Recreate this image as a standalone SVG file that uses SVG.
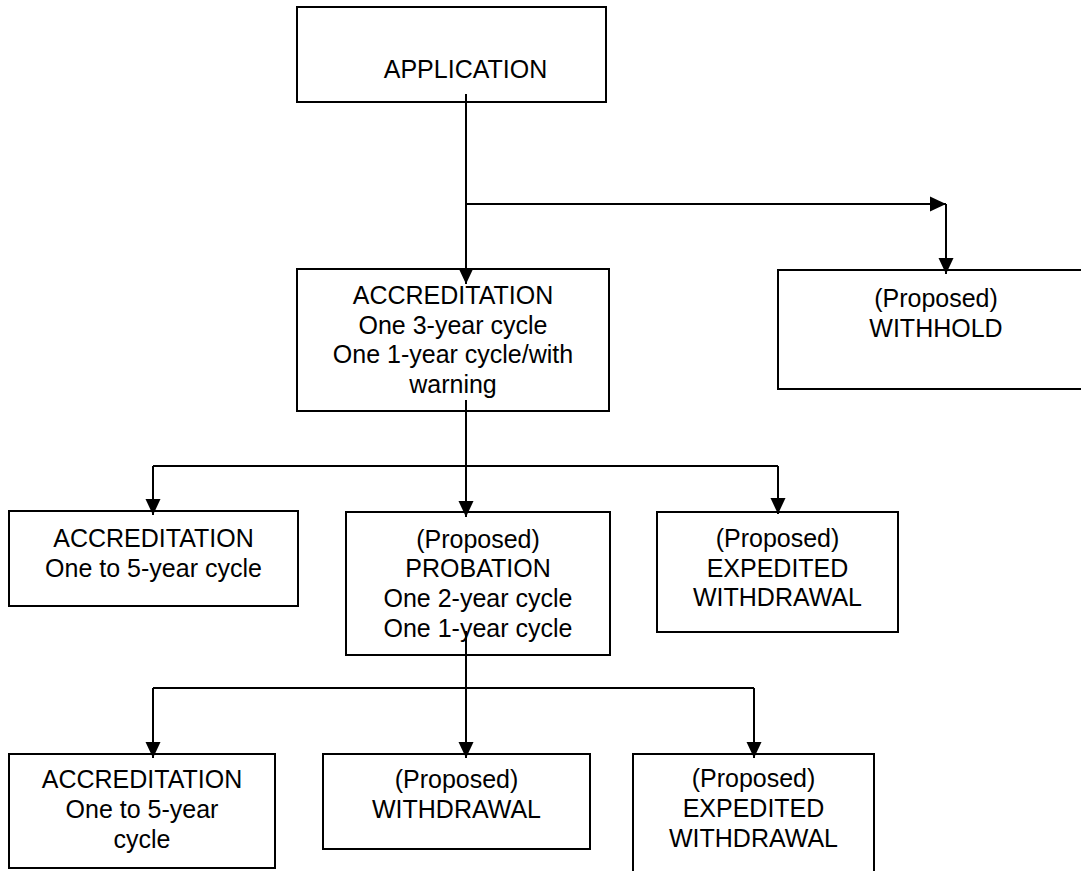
<svg xmlns="http://www.w3.org/2000/svg" width="1081" height="871" viewBox="0 0 1081 871">
<style>
.box{fill:#fff;stroke:#000;stroke-width:2}
.t{font-family:"Liberation Sans",Arial,sans-serif;font-size:25px;fill:#000;text-anchor:middle}
.c{fill:none;stroke:#000;stroke-width:2}
.a{marker-end:url(#arr)}
</style>
<defs>
<marker id="arr" markerUnits="userSpaceOnUse" markerWidth="16" markerHeight="16" refX="16" refY="8" orient="auto">
<path d="M0,0.5 L16,8 L0,15.5 z" fill="#000"/>
</marker>
</defs>
<rect width="1081" height="871" fill="#fff"/>
<g id="application">
<rect class="box" x="297" y="7" width="309" height="95"/>
<text class="t" x="465.5" y="78">APPLICATION</text>
</g>
<g id="accreditation-main">
<rect class="box" x="297" y="269" width="312" height="142"/>
<text class="t" x="453" y="304">ACCREDITATION</text>
<text class="t" x="453" y="334">One 3-year cycle</text>
<text class="t" x="453" y="363">One 1-year cycle/with</text>
<text class="t" x="453" y="393">warning</text>
</g>
<g id="withhold">
<rect class="box" x="778" y="270" width="320" height="119"/>
<text class="t" x="936" y="307">(Proposed)</text>
<text class="t" x="936" y="337">WITHHOLD</text>
</g>
<g id="accreditation-5yr">
<rect class="box" x="9" y="511" width="289" height="95"/>
<text class="t" x="153.5" y="547">ACCREDITATION</text>
<text class="t" x="153.5" y="577">One to 5-year cycle</text>
</g>
<g id="probation">
<rect class="box" x="346" y="512" width="264" height="143"/>
<text class="t" x="478" y="548">(Proposed)</text>
<text class="t" x="478" y="577">PROBATION</text>
<text class="t" x="478" y="607">One 2-year cycle</text>
<text class="t" x="478" y="637">One 1-year cycle</text>
</g>
<g id="expedited-1">
<rect class="box" x="657" y="512" width="241" height="120"/>
<text class="t" x="777.5" y="547">(Proposed)</text>
<text class="t" x="777.5" y="577">EXPEDITED</text>
<text class="t" x="777.5" y="606">WITHDRAWAL</text>
</g>
<g id="accreditation-5yr-2">
<rect class="box" x="9" y="754" width="266" height="114"/>
<text class="t" x="142" y="788">ACCREDITATION</text>
<text class="t" x="142" y="818">One to 5-year</text>
<text class="t" x="142" y="848">cycle</text>
</g>
<g id="withdrawal">
<rect class="box" x="323" y="754" width="267" height="95"/>
<text class="t" x="456.5" y="788">(Proposed)</text>
<text class="t" x="456.5" y="818">WITHDRAWAL</text>
</g>
<g id="expedited-2">
<rect class="box" x="633" y="754" width="241" height="122"/>
<text class="t" x="753.5" y="787">(Proposed)</text>
<text class="t" x="753.5" y="817">EXPEDITED</text>
<text class="t" x="753.5" y="847">WITHDRAWAL</text>
</g>
<g id="connectors">
<line class="c a" x1="466" y1="94" x2="466" y2="284"/>
<line class="c a" x1="466" y1="204" x2="946" y2="204"/>
<line class="c a" x1="946" y1="204" x2="946" y2="274"/>
<line class="c" x1="466" y1="400" x2="466" y2="466"/>
<line class="c" x1="153" y1="466" x2="778" y2="466"/>
<line class="c a" x1="153" y1="466" x2="153" y2="515"/>
<line class="c a" x1="466" y1="466" x2="466" y2="517"/>
<line class="c a" x1="778" y1="466" x2="778" y2="514"/>
<line class="c" x1="466" y1="631" x2="466" y2="688"/>
<line class="c" x1="153" y1="688" x2="754" y2="688"/>
<line class="c a" x1="153" y1="688" x2="153" y2="758"/>
<line class="c a" x1="466" y1="688" x2="466" y2="758"/>
<line class="c a" x1="754" y1="688" x2="754" y2="758"/>
</g>
</svg>
